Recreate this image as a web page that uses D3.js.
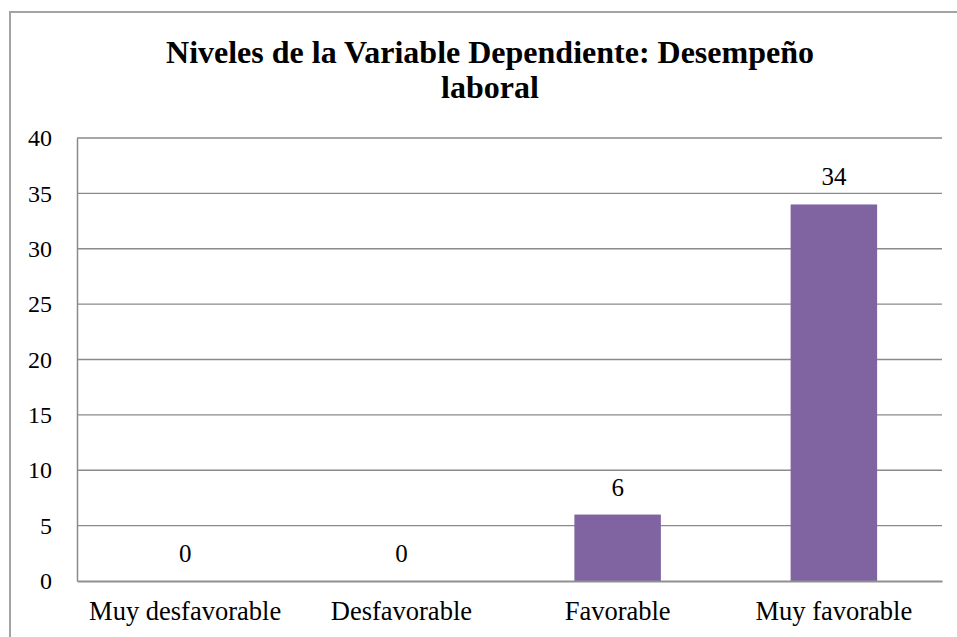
<!DOCTYPE html>
<html>
<head>
<meta charset="utf-8">
<script src="https://cdn.jsdelivr.net/npm/d3@7"></script>
<style>
  body { margin: 0; background: #fff; }
  svg { display: block; font-family: "Liberation Serif", "Times New Roman", serif; }
</style>
</head>
<body>
<script>
// chart data
const categories = ['Muy desfavorable', 'Desfavorable', 'Favorable', 'Muy favorable'];
const values = [0, 0, 6, 34];
const yTicks = [0, 5, 10, 15, 20, 25, 30, 35, 40];
const titleLines = ['Niveles de la Variable Dependiente: Desempeño', 'laboral'];

const width = 957;
const height = 637;

// plot area (window.top is taken, so prefix these)
const plotLeft = 77;
const plotRight = 942;
const plotTop = 138;
const plotBottom = 581;

const svg = d3.select('body')
  .append('svg')
  .attr('width', width)
  .attr('height', height);

// outer chart frame (runs past the right and bottom edge)
svg.append('rect')
  .attr('x', 10)
  .attr('y', 12)
  .attr('width', 980)
  .attr('height', 700)
  .attr('fill', '#fff')
  .attr('stroke', '#a3a3a3')
  .attr('stroke-width', 2);

// title
const title = svg.append('text')
  .attr('text-anchor', 'middle')
  .attr('font-size', 32)
  .attr('font-weight', 'bold')
  .attr('fill', '#000');

titleLines.forEach((t, i) => {
  title.append('tspan')
    .attr('x', 490)
    .attr('y', 63 + i * 35)
    .text(t);
});

// scales
const x = d3.scaleBand()
  .domain(categories)
  .range([plotLeft, plotRight])
  .paddingInner(0.6)
  .paddingOuter(0.3);

const y = d3.scaleLinear()
  .domain([0, 40])
  .range([plotBottom, plotTop]);

// gridlines
svg.append('g')
  .selectAll('line')
  .data(yTicks.filter(d => d > 0))
  .join('line')
  .attr('x1', plotLeft)
  .attr('x2', plotRight)
  .attr('y1', d => y(d))
  .attr('y2', d => y(d))
  .attr('stroke', '#8a8a8a')
  .attr('stroke-width', 1.3);

// y axis
const yAxis = svg.append('g')
  .attr('transform', `translate(${plotLeft},0)`)
  .call(d3.axisLeft(y).tickValues(yTicks).tickSize(0).tickPadding(25));

yAxis.select('.domain')
  .attr('stroke', '#8a8a8a')
  .attr('stroke-width', 1.5);

yAxis.selectAll('text')
  .attr('font-family', '"Liberation Serif", "Times New Roman", serif')
  .attr('font-size', 24)
  .attr('fill', '#000');

// bars
svg.append('g')
  .selectAll('rect')
  .data(values)
  .join('rect')
  .attr('x', (d, i) => x(categories[i]))
  .attr('y', d => y(d))
  .attr('width', x.bandwidth())
  .attr('height', d => y(0) - y(d))
  .attr('fill', '#8064a2');

// x axis
const xAxis = svg.append('g')
  .attr('transform', `translate(0,${plotBottom})`)
  .call(d3.axisBottom(x).tickSize(0).tickPadding(20));

xAxis.select('.domain')
  .attr('stroke', '#8f8f8f')
  .attr('stroke-width', 2);

xAxis.selectAll('text')
  .attr('font-family', '"Liberation Serif", "Times New Roman", serif')
  .attr('font-size', 26.5)
  .attr('fill', '#000');

// value labels
svg.append('g')
  .selectAll('text')
  .data(values)
  .join('text')
  .attr('x', (d, i) => x(categories[i]) + x.bandwidth() / 2)
  .attr('y', d => y(d) - 19)
  .attr('text-anchor', 'middle')
  .attr('font-size', 25)
  .attr('fill', '#000')
  .text(d => d);
</script>
</body>
</html>
